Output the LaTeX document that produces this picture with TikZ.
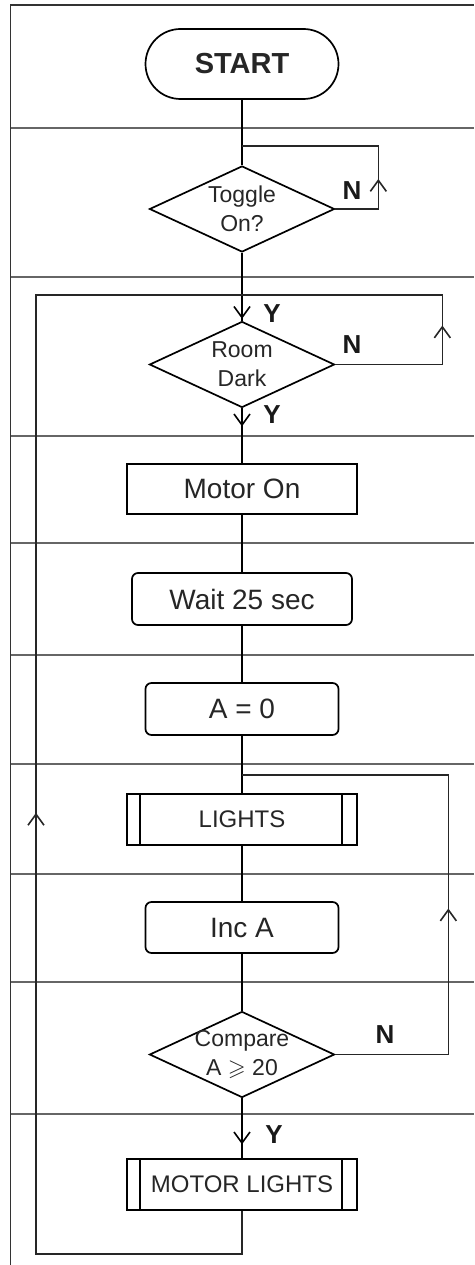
\documentclass[tikz,border=0pt]{standalone}
\usepackage{fontspec}
\setmainfont{Liberation Sans}
\usepackage{amssymb}
\usetikzlibrary{shapes.geometric,arrows.meta,decorations.markings}

\tikzset{
  sep/.style={black!60,line width=1.2pt},
  flow/.style={black,line width=1.7pt},
  loopline/.style={black!85,line width=1.5pt},
  box/.style={draw,line width=1.7pt,inner sep=0pt,text=black!85,align=center,
    font=\fontsize{28}{33}\selectfont},
  terminal/.style={box,rounded corners=35pt,minimum width=193pt,minimum height=70pt,
    font=\bfseries\fontsize{29}{34}\selectfont},
  process/.style={box,minimum width=230pt,minimum height=50pt},
  roundproc/.style={box,rounded corners=6pt,minimum height=52pt},
  subproc/.style={box,minimum width=230pt,minimum height=51pt,font=\fontsize{24}{28}\selectfont,
    path picture={\draw[line width=1.7pt]
      ([xshift=13pt]path picture bounding box.north west) -- ([xshift=13pt]path picture bounding box.south west)
      ([xshift=-15pt]path picture bounding box.north east) -- ([xshift=-15pt]path picture bounding box.south east);}},
  decision/.style={box,diamond,aspect=2.15,minimum width=185pt,minimum height=86pt,
    font=\fontsize{23}{29}\selectfont},
  yn/.style={font=\bfseries\fontsize{26}{30}\selectfont,text=black!90},
  tipat/.style={postaction={decorate},decoration={markings,
    mark=at position #1 with {\arrow{Straight Barb[length=11pt,width=16pt,line width=1.6pt]}}}},
}

\begin{document}
\begin{tikzpicture}[x=1pt,y=-1pt]
\useasboundingbox (0,0) rectangle (474,1265);
% frame and lanes
\draw[sep,black!80] (10.5,1265) -- (10.5,5) -- (474,5);
\foreach \y in {128,277,436,543,655,764,874,982,1114}
  \draw[sep] (10.5,\y) -- (474,\y);

% steps
\node[terminal] (start) at (242,64) {START};
\node[decision] (toggle) at (242,209) {Toggle\\On?};
\node[decision] (room) at (242,364.5) {Room\\Dark};
\node[process] (motor) at (242,489) {Motor On};
\node[roundproc,minimum width=220pt] (wait) at (242,599) {Wait 25 sec};
\node[roundproc,minimum width=193pt] (azero) at (242,709) {A = 0};
\node[subproc] (lights) at (242,819.5) {LIGHTS};
\node[roundproc,minimum width=193pt,minimum height=51pt] (inca) at (242,927.5) {Inc A};
\node[decision,inner xsep=-9pt] (compare) at (242,1054.5) {Compare\\A $\geqslant$ 20};
\node[subproc] (motorlights) at (242,1184.5) {MOTOR LIGHTS};

\coordinate (tgjoin) at (242,146);
\coordinate (rdjoin) at (242,295);
\coordinate (ltjoin) at (242,775);

% main flow
\draw[flow] (start.south) -- (toggle.north);
\draw[flow,tipat=66pt] (toggle.south) -- (room.north);
\draw[flow,tipat=18pt] (room.south) -- (motor.north);
\draw[flow] (motor.south) -- (wait.north);
\draw[flow] (wait.south) -- (azero.north);
\draw[flow] (azero.south) -- (lights.north);
\draw[flow] (lights.south) -- (inca.north);
\draw[flow] (inca.south) -- (compare.north);
\draw[flow,tipat=46pt] (compare.south) -- (motorlights.north);

% loops back
\draw[loopline,tipat=73pt] (toggle.east) -- ++(43,0) |- (tgjoin);
\draw[loopline,tipat=146pt] (room.east) -- ++(107,0) |- (rdjoin);
\draw[loopline,tipat=259pt] (compare.east) -- ++(113,0) |- (ltjoin);
\draw[loopline,tipat=690pt] (motorlights.south) -- ++(0,43) -- ++(-206,0) |- (rdjoin);

% answers
\node[yn] (tgN) at (352,190.5) {N};
\node[yn] (rdY1) at (272,314) {Y};
\node[yn] (rdN) at (352,345) {N};
\node[yn] (rdY2) at (272,415) {Y};
\node[yn] (cmN) at (385,1035) {N};
\node[yn] (cmY) at (274,1135) {Y};
\end{tikzpicture}
\end{document}
